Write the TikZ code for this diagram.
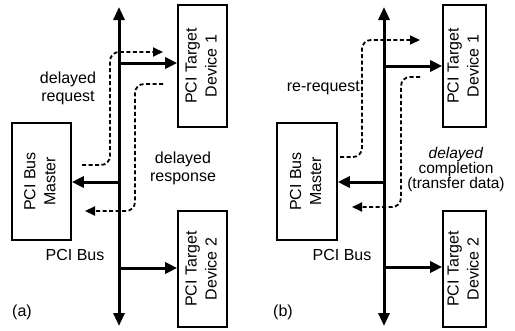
\documentclass[tikz,border=0pt]{standalone}
\usepackage{fontspec}
\setmainfont{Liberation Sans}
\usetikzlibrary{arrows.meta}
\begin{document}
\begin{tikzpicture}[x=1pt,y=-1pt,
  box/.style={draw, line width=1.6pt, inner sep=0pt, font=\fontsize{16}{20}\selectfont},
  bus/.style={line width=3pt, {Triangle[length=13pt,width=11pt]}-{Triangle[length=13pt,width=11pt]}},
  sarr/.style={line width=3pt, -{Triangle[length=12pt,width=11pt]}},
  darr/.style={line width=1.8pt, dash pattern=on 4pt off 2.5pt, rounded corners=9pt, -{Triangle[length=10pt,width=9pt]}},
  lbl/.style={font=\fontsize{16}{18}\selectfont, align=center, inner sep=0pt},
  lblb/.style={font=\fontsize{15.5}{15}\selectfont, align=center, inner sep=0pt},
]
\useasboundingbox (0,0) rectangle (515,330);

% ---------- panel (a) ----------
\node[box, minimum width=49pt, minimum height=122pt] (d1a) at (202.5,66)
  {\rotatebox{90}{\begin{tabular}{@{}c@{}}PCI Target\\Device 1\end{tabular}}};
\node[box, minimum width=49pt, minimum height=116pt] (d2a) at (202.5,269)
  {\rotatebox{90}{\begin{tabular}{@{}c@{}}PCI Target\\Device 2\end{tabular}}};
\node[box, minimum width=59pt, minimum height=117pt] (ma) at (41.5,181.5)
  {\rotatebox{90}{\begin{tabular}{@{}c@{}}PCI Bus\\Master\end{tabular}}};

\coordinate (bta) at (119,7);
\coordinate (bba) at (119,326);
\draw[bus] (bba) -- (bta);

\coordinate (j1a) at (119,63);
\coordinate (j2a) at (119,182);
\coordinate (j3a) at (119,268);
\draw[sarr] (j1a) -- (j1a -| d1a.west);
\draw[sarr] (j2a) -- (j2a -| ma.east);
\draw[sarr] (j3a) -- (j3a -| d2a.west);

\coordinate (rqsa) at (82,165);
\coordinate (rqea) at (163,52);
\draw[darr] (rqsa) -- (110,165) -- (110,52) -- (rqea);
\coordinate (rssa) at (163,84);
\coordinate (rsea) at (85,211);
\draw[darr] (rssa) -- (135,84) -- (135,211) -- (rsea);

\node[lbl] (la1) at (68,88) {delayed\\request};
\node[lbl] (la2) at (183,168) {delayed\\response};
\node[lbl] (la3) at (75,255) {PCI Bus};
\node[lbl] (la4) at (22,312) {(a)};

% ---------- panel (b) ----------
\node[box, minimum width=43pt, minimum height=122pt] (d1b) at (464.5,66)
  {\rotatebox{90}{\begin{tabular}{@{}c@{}}PCI Target\\Device 1\end{tabular}}};
\node[box, minimum width=43pt, minimum height=116pt] (d2b) at (464.5,269)
  {\rotatebox{90}{\begin{tabular}{@{}c@{}}PCI Target\\Device 2\end{tabular}}};
\node[box, minimum width=60pt, minimum height=117pt] (mb) at (307,181.5)
  {\rotatebox{90}{\begin{tabular}{@{}c@{}}PCI Bus\\Master\end{tabular}}};

\coordinate (btb) at (384,7);
\coordinate (bbb) at (384,326);
\draw[bus] (bbb) -- (btb);

\coordinate (j1b) at (384,66);
\coordinate (j2b) at (384,182);
\coordinate (j3b) at (384,267);
\draw[sarr] (j1b) -- (j1b -| d1b.west);
\draw[sarr] (j2b) -- (j2b -| mb.east);
\draw[sarr] (j3b) -- (j3b -| d2b.west);

\coordinate (rqsb) at (340,157);
\coordinate (rqeb) at (420,40);
\draw[darr] (rqsb) -- (362,157) -- (362,40) -- (rqeb);
\coordinate (rssb) at (420,77);
\coordinate (rseb) at (352,207);
\draw[darr] (rssb) -- (401,77) -- (401,207) -- (rseb);

\node[lbl, anchor=east] (lb1) at (360,88) {re-request};
\node[lblb] (lb2) at (456,169) {\textit{delayed}\\completion\\(transfer data)};
\node[lbl] (lb3) at (342,255) {PCI Bus};
\node[lbl] (lb4) at (283,312) {(b)};
\end{tikzpicture}
\end{document}
